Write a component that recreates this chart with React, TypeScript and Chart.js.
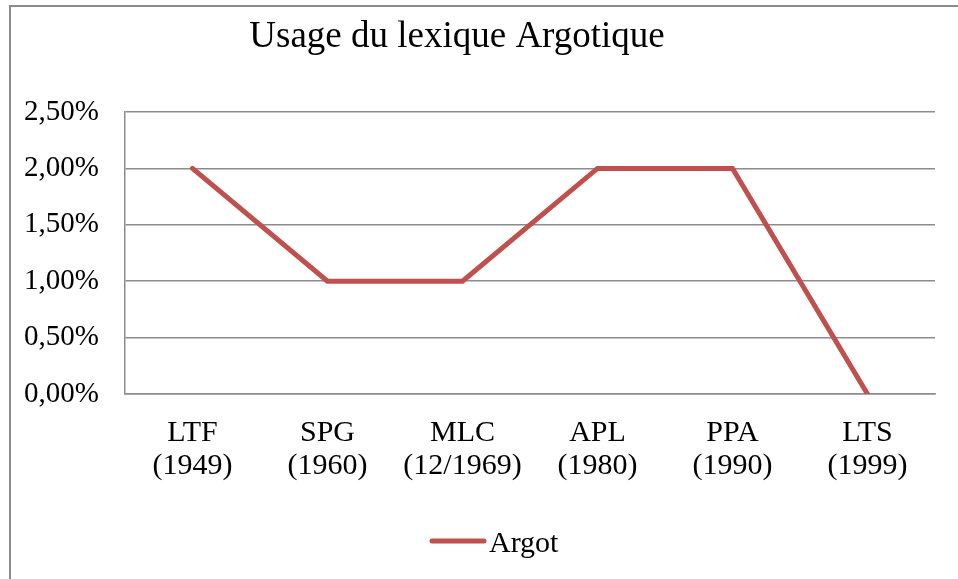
import React, { useEffect, useRef } from "react";
import { Chart, registerables } from "chart.js";

Chart.register(...registerables);

const categories: string[][] = [
  ["LTF", "(1949)"],
  ["SPG", "(1960)"],
  ["MLC", "(12/1969)"],
  ["APL", "(1980)"],
  ["PPA", "(1990)"],
  ["LTS", "(1999)"],
];
const argotValues: number[] = [2, 1, 1, 2, 2, 0];
const seriesName = "Argot";
const chartTitle = "Usage du lexique Argotique";
const yMin = 0;
const yMax = 2.5;
const yStep = 0.5;

const SERIF = "'Liberation Serif', 'Times New Roman', serif";
const LINE_COLOR = "#C0504D";
const GRID_COLOR = "#8c8c8c";

const titleLegendPlugin = {
  id: "titleLegend",
  afterDraw(chart: any) {
    const ctx = chart.ctx as CanvasRenderingContext2D;
    ctx.save();
    ctx.fillStyle = "#000";
    ctx.font = `37px ${SERIF}`;
    ctx.textAlign = "center";
    ctx.textBaseline = "alphabetic";
    ctx.fillText(chartTitle, 447, 41);

    // legend
    ctx.strokeStyle = LINE_COLOR;
    ctx.lineWidth = 5;
    ctx.lineCap = "round";
    ctx.beginPath();
    ctx.moveTo(422, 535);
    ctx.lineTo(474, 535);
    ctx.stroke();
    ctx.font = `30px ${SERIF}`;
    ctx.textAlign = "left";
    ctx.fillText(seriesName, 479, 546);
    ctx.restore();
  },
};

export default function App() {
  const canvasRef = useRef<HTMLCanvasElement | null>(null);

  useEffect(() => {
    if (!canvasRef.current) return;
    const chart = new Chart(canvasRef.current, {
      type: "line",
      data: {
        labels: categories,
        datasets: [
          {
            label: seriesName,
            data: argotValues,
            borderColor: LINE_COLOR,
            backgroundColor: LINE_COLOR,
            borderWidth: 5,
            pointRadius: 0,
            pointHoverRadius: 0,
            borderCapStyle: "round",
            borderJoinStyle: "miter",
            tension: 0,
          },
        ],
      },
      options: {
        animation: false,
        responsive: false,
        maintainAspectRatio: false,
        layout: { padding: { top: 106, right: 23, left: 0, bottom: 0 } },
        plugins: {
          legend: { display: false },
          title: { display: false },
          tooltip: { enabled: false },
        },
        scales: {
          x: {
            offset: true,
            grid: { display: false, drawTicks: false },
            border: { display: true, color: GRID_COLOR, width: 1.5 },
            ticks: {
              color: "#000",
              font: { family: SERIF, size: 30, lineHeight: 1.1 },
              padding: 23,
              maxRotation: 0,
              autoSkip: false,
            },
            afterFit(scale: any) {
              scale.height = 185;
            },
          },
          y: {
            min: yMin,
            max: yMax,
            grid: { color: GRID_COLOR, lineWidth: 1.5, drawTicks: false },
            border: { display: true, color: GRID_COLOR, width: 1.5 },
            ticks: {
              stepSize: yStep,
              color: "#000",
              font: { family: SERIF, size: 29 },
              padding: 26,
              callback: (v: any) => Number(v).toFixed(2).replace(".", ",") + "%",
            },
            afterFit(scale: any) {
              scale.width = 115;
            },
          },
        },
      },
      plugins: [titleLegendPlugin],
    });
    return () => chart.destroy();
  }, []);

  return (
    <div style={{ position: "fixed", left: 0, top: 0, width: 958, height: 579, overflow: "hidden", background: "#fff" }}>
      <div
        style={{
          position: "absolute",
          left: 9,
          top: 5,
          width: 1000,
          height: 700,
          borderLeft: `2px solid ${GRID_COLOR}`,
          borderTop: `2px solid ${GRID_COLOR}`,
          boxSizing: "border-box",
        }}
      />
      <canvas
        ref={canvasRef}
        width={948}
        height={573}
        style={{ position: "absolute", left: 10, top: 6, width: 948, height: 573 }}
      />
    </div>
  );
}
